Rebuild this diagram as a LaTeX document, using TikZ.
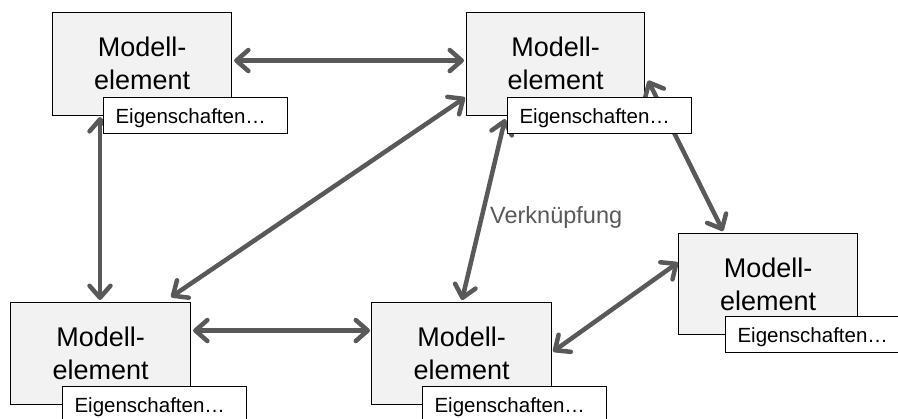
\documentclass[tikz,border=0pt]{standalone}
\usepackage{fontspec}
\setmainfont{Liberation Sans}
\usetikzlibrary{calc,arrows.meta}
\definecolor{boxfill}{HTML}{F2F2F2}
\definecolor{linkgray}{HTML}{595959}
\newcommand\elemfont{\fontsize{27}{33}\selectfont}
\newcommand\propfont{\fontsize{20.5}{24}\selectfont}
\newcommand\linkfont{\fontsize{23.5}{28}\selectfont}
\begin{document}
\begin{tikzpicture}[x=1pt,y=-1pt,
  elembox/.style={draw=black,line width=1.1pt,fill=boxfill,rectangle,inner sep=0pt,anchor=north west},
  elemtext/.style={font=\elemfont,inner sep=0pt,anchor=base},
  propbox/.style={draw=black,line width=1.1pt,fill=white,rectangle,anchor=north west,
    font=\propfont,inner xsep=12pt,inner ysep=8pt,text height=18pt,text depth=2pt,
    text width=160pt,align=left},
  link/.style={draw=linkgray,line width=4.5pt,line cap=round,
    {Straight Barb[length=12pt,width=21pt,line cap=round,line join=round]}-{Straight Barb[length=12pt,width=21pt,line cap=round,line join=round]}},
  linklabel/.style={font=\linkfont,text=linkgray,inner sep=0pt,anchor=base west}]
\useasboundingbox (0,0) rectangle (898,419);

% model elements
\node[elembox,minimum width=179pt,minimum height=103pt] (A) at (52,12) {};
\node[elembox,minimum width=178pt,minimum height=103pt] (B) at (466,12) {};
\node[elembox,minimum width=180pt,minimum height=102pt] (C) at (10,302) {};
\node[elembox,minimum width=180pt,minimum height=102pt] (D) at (371,302) {};
\node[elembox,minimum width=179pt,minimum height=101pt] (E) at (678,233) {};

\foreach \n in {A,B,C,D,E}{
  \node[elemtext] (\n1) at ($(\n.north)+(0,45)$) {Modell-};
  \node[elemtext] (\n2) at ($(\n.north)+(0,78)$) {element};
}

% links between the elements
\draw[link] ($(A.east)+(2,-3.5)$) -- ($(B.west)+(-2,-3.5)$);
\draw[link] ($(A.south west)+(48,1)$) -- ($(C.north west)+(90,-2)$);
\draw[link] ($(C.north east)+(-20,-5)$) -- ($(B.west)+(-1,33.5)$);
\draw[link] ($(B.south west)+(39,3)$) -- ($(D.north west)+(91,-2)$);
\draw[link] ($(B.east)+(3,16.5)$) -- ($(E.north west)+(45,-2)$);
\draw[link] ($(D.east)+(1,-2)$) -- ($(E.west)+(0,-21.5)$);
\draw[link] ($(C.east)+(2,-23)$) -- ($(D.west)+(-1,-23)$);

\node[linklabel] (lbl) at (490,224) {Verknüpfung};

% property tags
\node[propbox] (Ap) at (103,97) {Eigenschaften…};
\node[propbox] (Bp) at (507,97) {Eigenschaften…};
\node[propbox] (Cp) at (62,386) {Eigenschaften…};
\node[propbox] (Dp) at (422,386) {Eigenschaften…};
\node[propbox,text width=149pt] (Ep) at (725,316) {Eigenschaften…};
\end{tikzpicture}
\end{document}
